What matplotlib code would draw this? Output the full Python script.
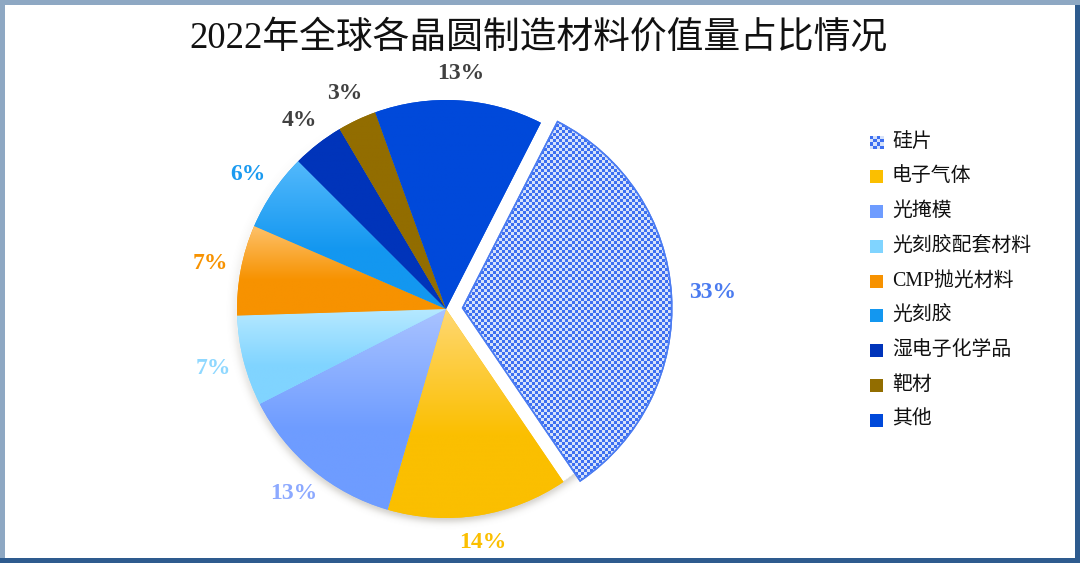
import numpy as np
import matplotlib
matplotlib.use("Agg")
import matplotlib.pyplot as plt
from matplotlib.patches import Rectangle
from matplotlib.colors import to_rgb

# Value shares of wafer-fab materials, 2022 (%)
categories = ['硅片', '电子气体', '光掩模', '光刻胶配套材料', 'CMP抛光材料',
              '光刻胶', '湿电子化学品', '靶材', '其他']
shares = [33, 14, 13, 7, 7, 6, 4, 3, 13]

base_colors = ['#3F71F2', '#FBBF00', '#6E9CFF', '#80D4FF', '#F79200',
               '#1397F0', '#0034BA', '#926D00', '#0049DA']
top_colors = ['#3F71F2', '#FFD873', '#A9C3FF', '#B6E9FF', '#FDC16A',
              '#53B9FC', '#0034BA', '#926D00', '#0049DA']
label_colors = ['#4A7BF0', '#FBBF00', '#8CA9FF', '#8FD8FF', '#F79200',
                '#1A9AF0', '#404040', '#404040', '#404040']
explode = [0.08, 0, 0, 0, 0, 0, 0, 0, 0]

W, H = 1080, 571
fig = plt.figure(figsize=(W / 100, H / 100), dpi=100)
fig.patch.set_facecolor('white')

R_PX = 209
cx, cy = 446, H - 309
XL, YL = 1.5, 1.25
ax = fig.add_axes([(cx - XL * R_PX) / W, (cy - YL * R_PX) / H,
                   2 * XL * R_PX / W, 2 * YL * R_PX / H])

wedges, _ = ax.pie(shares, startangle=63, counterclock=False, explode=explode,
                   colors=base_colors, wedgeprops=dict(linewidth=0))

# soft drop shadow along the lower rim of the pie
gx = np.linspace(-1.3, 1.3, 700)
gy = np.linspace(-1.3, 1.3, 700)
GX, GY = np.meshgrid(gx, gy)
rr = np.hypot(GX, GY)
th = np.arctan2(GY, GX)
weight = (1 - np.sin(th)) / 2
alpha = np.where(rr > 1, 0.32 * np.exp(-((rr - 1) / 0.028) ** 2), 0) * weight ** 1.5
shadow = np.zeros((700, 700, 4))
shadow[..., :3] = to_rgb('#7a7466')
shadow[..., 3] = alpha
ax.imshow(shadow, extent=[-1.3, 1.3, -1.3, 1.3], origin='lower',
          interpolation='bilinear', aspect='auto', zorder=0.5)


def wedge_bbox(w):
    v = w.get_path().vertices
    return v[:, 0].min(), v[:, 0].max(), v[:, 1].min(), v[:, 1].max()


# vertical gradient fill for each slice, checker pattern for the first
for i, w in enumerate(wedges):
    x0, x1, y0, y1 = wedge_bbox(w)
    if i == 0:
        cell = 3.0 / R_PX
        nx = int(np.ceil((x1 - x0) / cell))
        ny = int(np.ceil((y1 - y0) / cell))
        jj, ii = np.meshgrid(np.arange(nx), np.arange(ny))
        mask = ((ii + jj) % 2 == 0)[..., None]
        dark = np.array(to_rgb('#3D6FF1'))
        light = np.array(to_rgb('#D6E2FA'))
        img = np.where(mask, dark, light)
        x1 = x0 + nx * cell
        y1 = y0 + ny * cell
        im = ax.imshow(img, extent=[x0, x1, y0, y1], origin='upper',
                       interpolation='nearest', aspect='auto', zorder=2)
        w.set_facecolor('white')
        w.set_edgecolor('#4B7CF2')
        w.set_linewidth(1.2)
        w.set_zorder(1.8)
    else:
        n = 256
        t = np.clip(np.linspace(0, 1, n) / 0.6, 0, 1)[:, None]
        c_top = np.array(to_rgb(top_colors[i]))
        c_base = np.array(to_rgb(base_colors[i]))
        col = c_top * (1 - t) + c_base * t
        img = np.repeat(col[:, None, :], 2, axis=1)
        im = ax.imshow(img, extent=[x0, x1, y0, y1], origin='upper',
                       interpolation='bilinear', aspect='auto', zorder=2)
    im.set_clip_path(w)

# outline of the exploded slice on top of its pattern
w0 = wedges[0]
edge = plt.matplotlib.patches.Wedge(w0.center, w0.r, w0.theta1, w0.theta2,
                                    facecolor='none', edgecolor='#4B7CF2',
                                    linewidth=1.2, zorder=3)
ax.add_patch(edge)

# percentage labels placed just outside each slice
for i, w in enumerate(wedges):
    mid = np.deg2rad((w.theta1 + w.theta2) / 2)
    ox, oy = w.center
    d = 1.2 if explode[i] else 1.13 + 0.02 * abs(np.cos(mid))
    ax.text(ox + d * np.cos(mid), oy + d * np.sin(mid), f'{shares[i]}%',
            ha='center', va='center', fontsize=17, fontweight='bold',
            family='Liberation Serif', color=label_colors[i], zorder=5)

ax.set_xlim(-XL, XL)
ax.set_ylim(-YL, YL)
ax.set_axis_off()

# title
fig.text(538 / W, 1 - 38 / H, '2022年全球各晶圆制造材料价值量占比情况',
         ha='center', va='center', fontsize=26.5,
         family=['Liberation Serif', 'Noto Sans CJK SC'], color='#111111')

# legend
leg_x, leg_y0, leg_dy, box = 870, 142, 34.75, 13
for i, name in enumerate(categories):
    yc = leg_y0 + i * leg_dy
    if i == 0:
        lax = fig.add_axes([leg_x / W, 1 - (yc + box / 2) / H, box / W, box / H])
        k = 4
        jj, ii = np.meshgrid(np.arange(k), np.arange(k))
        m = ((ii + jj) % 2 == 0)[..., None]
        lax.imshow(np.where(m, np.array(to_rgb('#3D6FF1')), np.array(to_rgb('#D6E2FA'))),
                   interpolation='nearest', aspect='auto')
        lax.set_axis_off()
    else:
        fig.add_artist(Rectangle((leg_x / W, 1 - (yc + box / 2) / H), box / W, box / H,
                                 transform=fig.transFigure, facecolor=base_colors[i],
                                 edgecolor='none'))
    fig.text(892 / W, 1 - yc / H, name, ha='left', va='center', fontsize=14.3,
             fontweight='medium',
             family=['Liberation Serif', 'Noto Sans CJK SC'], color='#111111')

# frame around the figure
light_edge, dark_edge = '#8EA8C3', '#2E5B8E'
fig.add_artist(Rectangle((0, 1 - 5 / H), 1, 5 / H, transform=fig.transFigure,
                         facecolor=light_edge, edgecolor='none'))
fig.add_artist(Rectangle((0, 1 - 563 / H), 5 / W, 563 / H, transform=fig.transFigure,
                         facecolor=light_edge, edgecolor='none'))
fig.add_artist(Rectangle((1075 / W, 1 - 563 / H), 5 / W, 558 / H, transform=fig.transFigure,
                         facecolor=dark_edge, edgecolor='none'))
fig.add_artist(Rectangle((0, 1 - 563 / H), 1, 5 / H, transform=fig.transFigure,
                         facecolor=dark_edge, edgecolor='none'))

fig.savefig('out.png', dpi=100)
